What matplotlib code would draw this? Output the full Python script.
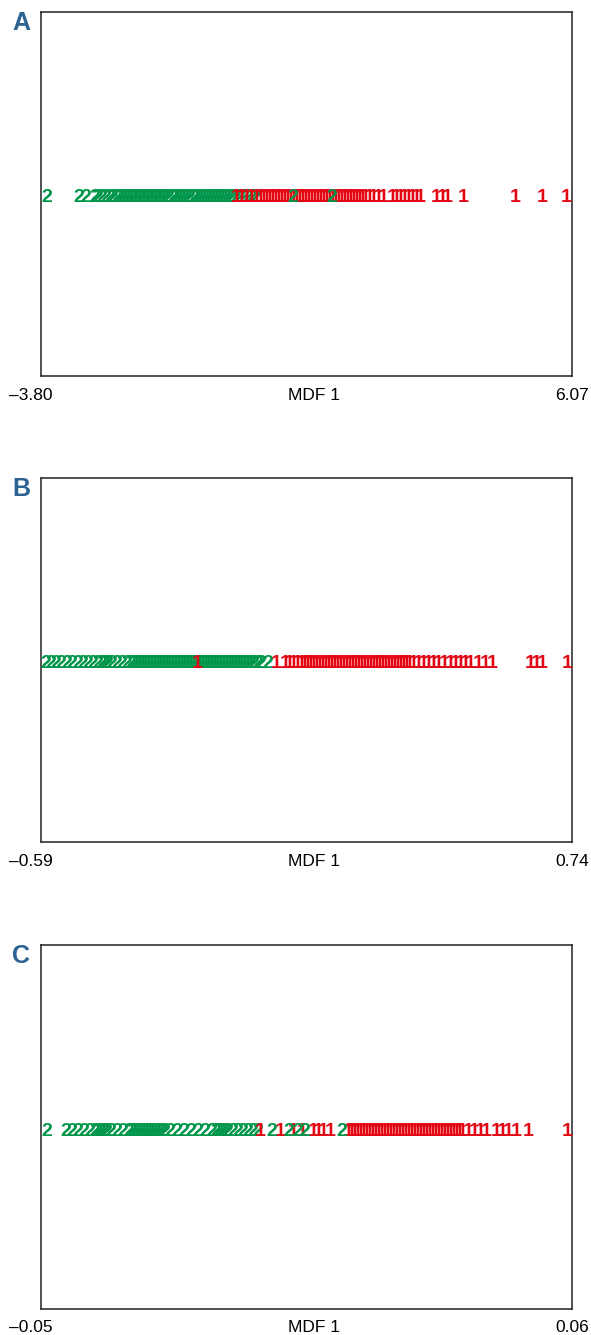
import matplotlib
matplotlib.use("Agg")
import matplotlib.pyplot as plt
from matplotlib.transforms import offset_copy

# panel A
a_lim = [-3.80, 6.07]
a_two = [-3.69, -3.09, -2.96, -2.81, -2.74, -2.67, -2.59, -2.52, -2.46, -2.39, -2.33, -2.28,
         -2.22, -2.16, -2.11, -2.07, -2.02, -1.96, -1.92, -1.87, -1.81, -1.77, -1.72, -1.66,
         -1.63, -1.57, -1.51, -1.48, -1.42, -1.36, -1.31, -1.25, -1.20, -1.14, -1.09, -1.03,
         -0.97, -0.92, -0.86, -0.81, -0.75, -0.70, -0.64, -0.58, -0.53, -0.47, -0.42, -0.36,
         -0.31, -0.25, -0.18, -0.10, -0.03, 0.05, 0.12, 0.20]
a_one = [-0.18, -0.08, 0.01, 0.10, 0.20, 0.27, 0.33, 0.38, 0.44, 0.49, 0.55, 0.61, 0.66,
         0.72, 0.77, 0.83, 0.88, 0.94, 1.00, 1.05, 1.11, 1.16, 1.22, 1.27, 1.33, 1.39, 1.44,
         1.50, 1.55, 1.61, 1.66, 1.72, 1.78, 1.83, 1.89, 1.94, 2.00, 2.06, 2.11, 2.17, 2.22,
         2.30, 2.37, 2.46, 2.56, 2.72, 2.80, 2.87, 2.95, 3.02, 3.10, 3.17, 3.25, 3.54, 3.65,
         3.75, 4.04, 5.01, 5.51, 5.96]
a_two_late = [0.88, 1.61]

# panel B
b_lim = [-0.59, 0.74]
b_two = [-0.578, -0.565, -0.552, -0.540, -0.525, -0.512, -0.497, -0.485, -0.472, -0.460,
         -0.447, -0.437, -0.430, -0.422, -0.412, -0.400, -0.387, -0.375, -0.365, -0.357,
         -0.350, -0.342, -0.335, -0.327, -0.320, -0.312, -0.305, -0.297, -0.289, -0.282,
         -0.274, -0.267, -0.259, -0.252, -0.244, -0.237, -0.229, -0.222, -0.214, -0.207,
         -0.199, -0.192, -0.184, -0.177, -0.169, -0.162, -0.154, -0.147, -0.139, -0.132,
         -0.124, -0.117, -0.109, -0.102, -0.094, -0.087, -0.079, -0.072, -0.064, -0.057,
         -0.047, -0.039, -0.021]
b_one = [-0.199, -0.001, 0.021, 0.031, 0.041, 0.051, 0.061, 0.069, 0.076, 0.084, 0.091,
         0.099, 0.106, 0.114, 0.121, 0.129, 0.136, 0.144, 0.151, 0.159, 0.166, 0.174, 0.181,
         0.189, 0.196, 0.204, 0.211, 0.219, 0.227, 0.234, 0.242, 0.249, 0.257, 0.264, 0.272,
         0.279, 0.287, 0.294, 0.302, 0.309, 0.317, 0.324, 0.332, 0.342, 0.354, 0.367, 0.379,
         0.392, 0.404, 0.419, 0.434, 0.447, 0.459, 0.472, 0.485, 0.505, 0.522, 0.540, 0.635,
         0.650, 0.665, 0.727]
b_two_late = []

# panel C
c_lim = [-0.05, 0.06]
c_two = [-0.0488, -0.0448, -0.0436, -0.0423, -0.0411, -0.0398, -0.0388, -0.0382, -0.0376,
         -0.0369, -0.0363, -0.0355, -0.0343, -0.0330, -0.0318, -0.0311, -0.0305, -0.0299,
         -0.0293, -0.0287, -0.0280, -0.0274, -0.0268, -0.0262, -0.0256, -0.0249, -0.0243,
         -0.0233, -0.0218, -0.0204, -0.0189, -0.0175, -0.0160, -0.0146, -0.0137, -0.0131,
         -0.0125, -0.0119, -0.0113, -0.0102, -0.0092, -0.0082, -0.0071, -0.0061, -0.0050]
c_one = [-0.0046, -0.0005, 0.0022, 0.0041, 0.0063, 0.0074, 0.0084, 0.0099, 0.0136, 0.0142,
         0.0148, 0.0155, 0.0161, 0.0167, 0.0173, 0.0179, 0.0186, 0.0192, 0.0198, 0.0204,
         0.0211, 0.0217, 0.0223, 0.0229, 0.0235, 0.0242, 0.0248, 0.0254, 0.0260, 0.0267,
         0.0273, 0.0279, 0.0285, 0.0291, 0.0298, 0.0304, 0.0310, 0.0316, 0.0322, 0.0329,
         0.0335, 0.0341, 0.0347, 0.0353, 0.0360, 0.0366, 0.0372, 0.0385, 0.0397, 0.0409,
         0.0422, 0.0443, 0.0455, 0.0467, 0.0484, 0.0509, 0.0590]
c_two_late = [-0.0021, 0.0014, 0.0032, 0.0047, 0.0124]

panels = [("A", a_lim, ["–3.80", "6.07"], a_two, a_one, a_two_late),
          ("B", b_lim, ["–0.59", "0.74"], b_two, b_one, b_two_late),
          ("C", c_lim, ["–0.05", "0.06"], c_two, c_one, c_two_late)]

green = "#00964a"
red = "#e30613"
fnt = "Liberation Sans"

fig = plt.figure(figsize=(5.91, 13.35), dpi=100)
tops = [12, 478, 945]

for (letter, lim, ticklabels, two, one, two_late), top in zip(panels, tops):
    ax = fig.add_axes([41 / 591, 1 - (top + 364) / 1335, 531 / 591, 364 / 1335])
    ax.set_xlim(lim)
    ax.set_ylim(-1, 1)
    ax.set_xticks([])
    ax.set_yticks([])
    for s in ax.spines.values():
        s.set_linewidth(1.1)
        s.set_color("#222222")

    # markers sit a few pixels below the middle line
    tr = offset_copy(ax.transData, fig=fig, x=0, y=-4, units="dots")
    for v in two:
        ax.text(v, 0, "2", color=green, ha="center", va="center", transform=tr,
                fontsize=14, fontweight="bold", family=fnt, zorder=3)
    for v in one:
        ax.text(v, 0, "1", color=red, ha="center", va="center", transform=tr,
                fontsize=14, fontweight="bold", family=fnt, zorder=4)
    for v in two_late:
        ax.text(v, 0, "2", color=green, ha="center", va="center", transform=tr,
                fontsize=14, fontweight="bold", family=fnt, zorder=5)

    lab = dict(xycoords="axes fraction", textcoords="offset pixels", ha="center",
               va="center", family=fnt, fontsize=12.5)
    ax.annotate(ticklabels[0], xy=(0, 0), xytext=(-10, -19), **lab)
    ax.annotate("MDF 1", xy=(0.5, 0), xytext=(8, -19), **lab)
    ax.annotate(ticklabels[1], xy=(1, 0), xytext=(0, -19), **lab)

    fig.text(21 / 591, 1 - (top + 11) / 1335, letter, color="#2c6393", ha="center",
             va="center", fontsize=18, fontweight="bold", family=fnt)

fig.savefig("out.png", dpi=100)
